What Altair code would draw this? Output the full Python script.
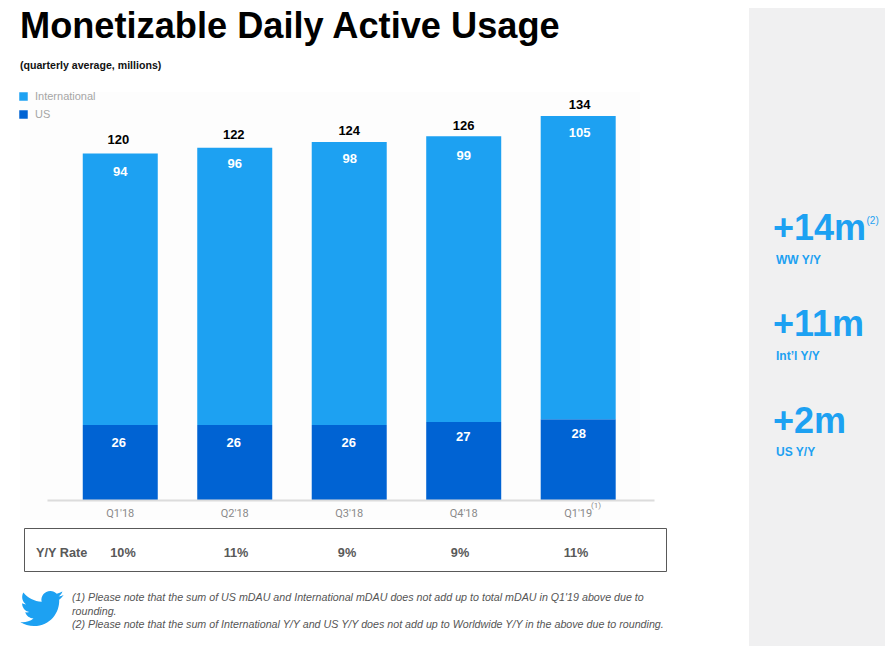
import altair as alt
import pandas as pd

quarters = ["Q1'18", "Q2'18", "Q3'18", "Q4'18", "Q1'19"]
international = [94, 96, 98, 99, 105]
us = [26, 26, 26, 27, 28]
totals = [120, 122, 124, 126, 134]
yoy = ["10%", "11%", "9%", "9%", "11%"]

BLUE = "#1da1f2"
DARK = "#0063d3"
FONT = "Liberation Sans"
W, H = 877, 638
OX, OY = 8, 8  # page margin

rows = []
for q, i, u in zip(quarters, international, us):
    rows.append({"quarter": q, "segment": "US", "value": u, "order": 0, "top": u, "label": str(u)})
    rows.append({"quarter": q, "segment": "International", "value": i, "order": 1, "top": u + i, "label": str(i)})
df = pd.DataFrame(rows)
tot = pd.DataFrame({"quarter": quarters, "total": totals, "top": [a + b for a, b in zip(international, us)]})

x = alt.X("quarter:N", sort=quarters, title=None,
          scale=alt.Scale(range=[47 - OX, 654 - OX], paddingInner=0.35, paddingOuter=0.326, align=0.483),
          axis=alt.Axis(orient="bottom", offset=-(H - (500 - OY)), labelAngle=0, ticks=False,
                        labelFont="Roboto", labelFontSize=11, labelColor="#8a8a8a", zindex=1,
                        labelPadding=7, domainColor="#dcdcdc", domainWidth=2, grid=False))
yscale = alt.Scale(domain=[0, 133], range=[500 - OY, 116 - OY], nice=False, zero=True)


def note(text, px, py, size=11, weight="normal", color="#000000", align="left",
         style="normal", font=FONT):
    return alt.Chart(pd.DataFrame({"t": [text]})).mark_text(
        align=align, baseline="alphabetic", font=font, fontSize=size, fontWeight=weight,
        fontStyle=style, color=color
    ).encode(x=alt.value(px - OX), y=alt.value(py - OY), text="t:N")


def box(x0, x1, y0, y1, fill, stroke=None, width=0):
    kw = dict(fill=fill)
    if stroke:
        kw.update(stroke=stroke, strokeWidth=width)
    return alt.Chart(pd.DataFrame({"a": [0]})).mark_rect(**kw).encode(
        x=alt.value(x0 - OX), x2=alt.value(x1 - OX),
        y=alt.value(y0 - OY), y2=alt.value(y1 - OY))


layers = [
    box(749, 893, 0, 646, "#f0f0f1"),
    box(20, 640, 92, 520, "#fdfdfd"),
]

bars = alt.Chart(df).mark_bar(size=75).encode(
    x=x,
    y=alt.Y("value:Q", stack="zero", scale=yscale, axis=None),
    order=alt.Order("order:Q"),
    color=alt.Color("segment:N", title=None,
                    scale=alt.Scale(domain=["International", "US"], range=[BLUE, DARK]),
                    legend=alt.Legend(orient="none", legendX=18 - OX, legendY=91 - OY,
                                      symbolType="square", symbolSize=72, symbolStrokeWidth=0,
                                      labelFont=FONT, labelFontSize=11, labelColor="#a6a6a6",
                                      labelOffset=6, rowPadding=6, padding=0)),
)
layers.append(bars)

# per-label nudges (px)
intl_dy = [18, 16, 17, 20, 17]
us_dy = [18, 18, 18, 15, 15]
tot_dy = [-14, -12.5, -11, -10, -11]
intl_dx = [0, 0, 0.5, 0, 1.5]
us_dx = [-1.5, -1, -0.5, -0.5, 0.5]
tot_dx = [-2, -1, 0, 0, 1.5]

for k, q in enumerate(quarters):
    one = df[df.quarter == q]
    for seg, dy, dx in (("International", intl_dy[k], intl_dx[k]), ("US", us_dy[k], us_dx[k])):
        layers.append(alt.Chart(one[one.segment == seg]).mark_text(
            font=FONT, fontSize=13, fontWeight="bold", color="#ffffff", baseline="middle", dy=dy, dx=dx
        ).encode(x=alt.X("quarter:N", sort=quarters, title=None),
                 y=alt.Y("top:Q", scale=yscale, axis=None), text="label:N"))
    layers.append(alt.Chart(tot[tot.quarter == q]).mark_text(
        font=FONT, fontSize=13, fontWeight="bold", color="#000000", baseline="middle", dy=tot_dy[k], dx=tot_dx[k]
    ).encode(x=alt.X("quarter:N", sort=quarters, title=None),
             y=alt.Y("top:Q", scale=yscale, axis=None), text="total:Q"))

layers.append(note("(1)", 596, 508, size=8, color="#8a8a8a", align="center", font="Roboto"))

# header
layers.append(note("Monetizable Daily Active Usage", 20, 38, size=36.2, weight="bold"))
layers.append(note("(quarterly average, millions)", 20, 69, size=10.6, weight="bold", color="#111111"))

# Y/Y table
layers.append(box(24.5, 666.5, 528.5, 571.5, "#ffffff", "#595959", 1))
layers.append(note("Y/Y Rate", 36, 557, size=12.7, weight="bold", color="#595959"))
yoy_x = [123, 236, 347, 460, 576]
for label, px in zip(yoy, yoy_x):
    layers.append(note(label, px, 557, size=12.7, weight="bold", color="#595959", align="center"))

# footnotes
bird = ("M12 -7.443c-.883.392-1.832.656-2.828.775 1.017-.609 1.798-1.574 2.165-2.724-.951.564-2.005.974-3.127 1.195"
        "-.897-.957-2.178-1.555-3.594-1.555-3.179 0-5.515 2.966-4.797 6.045-4.091-.205-7.719-2.165-10.148-5.144"
        "-1.29 2.213-.669 5.108 1.523 6.574-.806-.026-1.566-.247-2.229-.616-.054 2.281 1.581 4.415 3.949 4.89"
        "-.693.188-1.452.232-2.224.084.626 1.956 2.444 3.379 4.6 3.419-2.07 1.623-4.678 2.348-7.29 2.04"
        " 2.179 1.397 4.768 2.212 7.548 2.212 9.142 0 14.307-7.721 13.995-14.646.962-.695 1.797-1.562 2.457-2.549z")
layers.append(alt.Chart(pd.DataFrame({"a": [0]})).mark_point(
    shape=bird, filled=True, fill=BLUE, opacity=1, strokeWidth=0, size=13
).encode(x=alt.value(42 - OX), y=alt.value(608.5 - OY)))
foot = [
    ("(1) Please note that the sum of US mDAU and International mDAU does not add up to total mDAU in Q1'19 above due to", 601),
    ("rounding.", 615),
    ("(2) Please note that the sum of International Y/Y and US Y/Y does not add up to Worldwide Y/Y in the above due to rounding.", 628),
]
for t, py in foot:
    layers.append(note(t, 72, py, size=10.7, style="italic", color="#555555"))

# side panel
side = [("+14m", 240, "WW Y/Y", 264), ("+11m", 336, "Int\u2019l Y/Y", 360), ("+2m", 433, "US Y/Y", 456)]
for big, by, small, sy in side:
    layers.append(note(big, 773, by, size=36, weight="bold", color=BLUE))
    layers.append(note(small, 776, sy, size=12, weight="bold", color=BLUE))
layers.append(note("(2)", 866.5, 224, size=10, color=BLUE))

chart = alt.layer(*layers).properties(
    width=W, height=H, padding=0, autosize=alt.AutoSizeParams(type="none"), background="#ffffff"
).configure_view(stroke=None)

chart.save("out.html", embed_options={"renderer": "svg", "actions": False})
